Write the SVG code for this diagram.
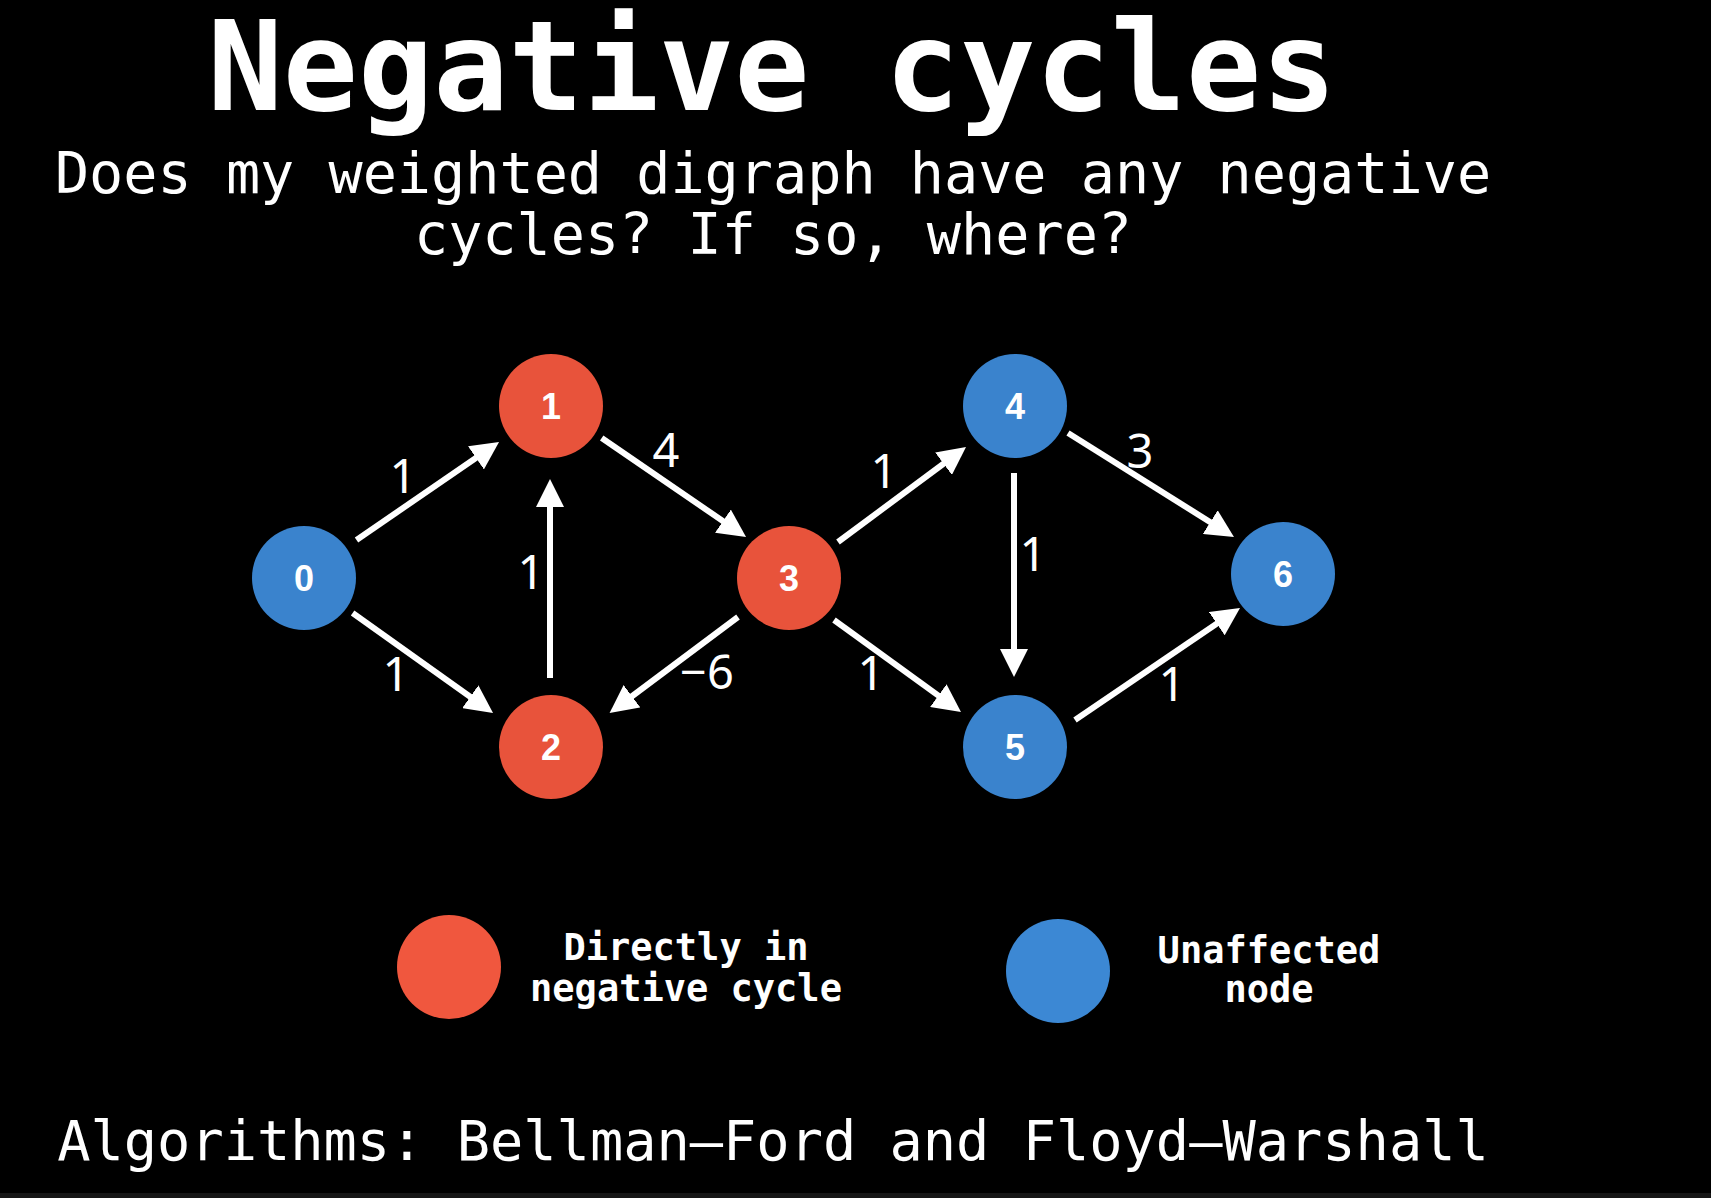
<svg xmlns="http://www.w3.org/2000/svg" width="1711" height="1198" viewBox="0 0 1711 1198">
<style>
.red{fill:#E8533B}
.blue{fill:#3A83CD}
.nl{font-family:"Liberation Sans","Noto Sans",sans-serif;font-weight:bold;font-size:36px;fill:#fff;text-anchor:middle}
.el{font-family:"Noto Sans","Liberation Sans",sans-serif;font-size:47px;fill:#fff;text-anchor:middle}
.mono{font-family:"DejaVu Sans Mono","Liberation Mono",monospace;fill:#fff;text-anchor:middle}
.edge{stroke:#fff;stroke-width:6;fill:none;marker-end:url(#ah)}
</style>
<defs>
<marker id="ah" markerUnits="userSpaceOnUse" markerWidth="28" markerHeight="28" refX="18" refY="14" orient="auto">
<path d="M0,0 L28,14 L0,28 z" fill="#fff"/>
</marker>
</defs>
<rect width="1711" height="1198" fill="#000"/>
<rect x="0" y="1193" width="1711" height="5" fill="#161616"/>
<text class="mono" x="772" y="110" font-size="125" font-weight="bold">Negative cycles</text>
<text class="mono" x="773" y="193" font-size="56.8">Does my weighted digraph have any negative</text>
<text class="mono" x="773" y="254" font-size="56.8">cycles? If so, where?</text>
<g id="connectors">
<line class="edge" x1="356.5" y1="540" x2="490.8" y2="447.7"/>
<line class="edge" x1="352.6" y1="613" x2="484.9" y2="707.2"/>
<line class="edge" x1="550" y1="678" x2="550" y2="489"/>
<line class="edge" x1="601.7" y1="438" x2="737.8" y2="531.3"/>
<line class="edge" x1="738" y1="617" x2="617.6" y2="707"/>
<line class="edge" x1="838" y1="542" x2="958" y2="453"/>
<line class="edge" x1="834" y1="620" x2="952.9" y2="706.1"/>
<line class="edge" x1="1014" y1="473" x2="1014" y2="667"/>
<line class="edge" x1="1068" y1="433" x2="1225.5" y2="531.7"/>
<line class="edge" x1="1075" y1="720" x2="1231.7" y2="613.6"/>
<text class="el" x="403" y="493">1</text>
<text class="el" x="396" y="691">1</text>
<text class="el" x="531" y="589">1</text>
<text class="el" x="666" y="467">4</text>
<text class="el" x="707" y="689">−6</text>
<text class="el" x="884" y="488">1</text>
<text class="el" x="871" y="690">1</text>
<text class="el" x="1033" y="571">1</text>
<text class="el" x="1140" y="468">3</text>
<text class="el" x="1172" y="701">1</text>
</g>
<g id="node0"><circle class="blue" cx="304" cy="578" r="52"/><text class="nl" x="304" y="591">0</text></g>
<g id="node1"><circle class="red" cx="551" cy="406" r="52"/><text class="nl" x="551" y="419">1</text></g>
<g id="node2"><circle class="red" cx="551" cy="747" r="52"/><text class="nl" x="551" y="760">2</text></g>
<g id="node3"><circle class="red" cx="789" cy="578" r="52"/><text class="nl" x="789" y="591">3</text></g>
<g id="node4"><circle class="blue" cx="1015" cy="406" r="52"/><text class="nl" x="1015" y="419">4</text></g>
<g id="node5"><circle class="blue" cx="1015" cy="747" r="52"/><text class="nl" x="1015" y="760">5</text></g>
<g id="node6"><circle class="blue" cx="1283" cy="574" r="52"/><text class="nl" x="1283" y="587">6</text></g>
<g id="legend-red"><circle cx="449" cy="967" r="52" fill="#F0573E"/>
<text class="mono" x="686" y="960" font-size="37" font-weight="bold">Directly in</text>
<text class="mono" x="686" y="1001" font-size="37" font-weight="bold">negative cycle</text></g>
<g id="legend-blue"><circle cx="1058" cy="971" r="52" fill="#3C88D4"/>
<text class="mono" x="1269" y="963" font-size="37" font-weight="bold">Unaffected</text>
<text class="mono" x="1269" y="1002" font-size="37" font-weight="bold">node</text></g>
<text class="mono" x="773" y="1160" font-size="55.3">Algorithms: Bellman–Ford and Floyd–Warshall</text>
</svg>
